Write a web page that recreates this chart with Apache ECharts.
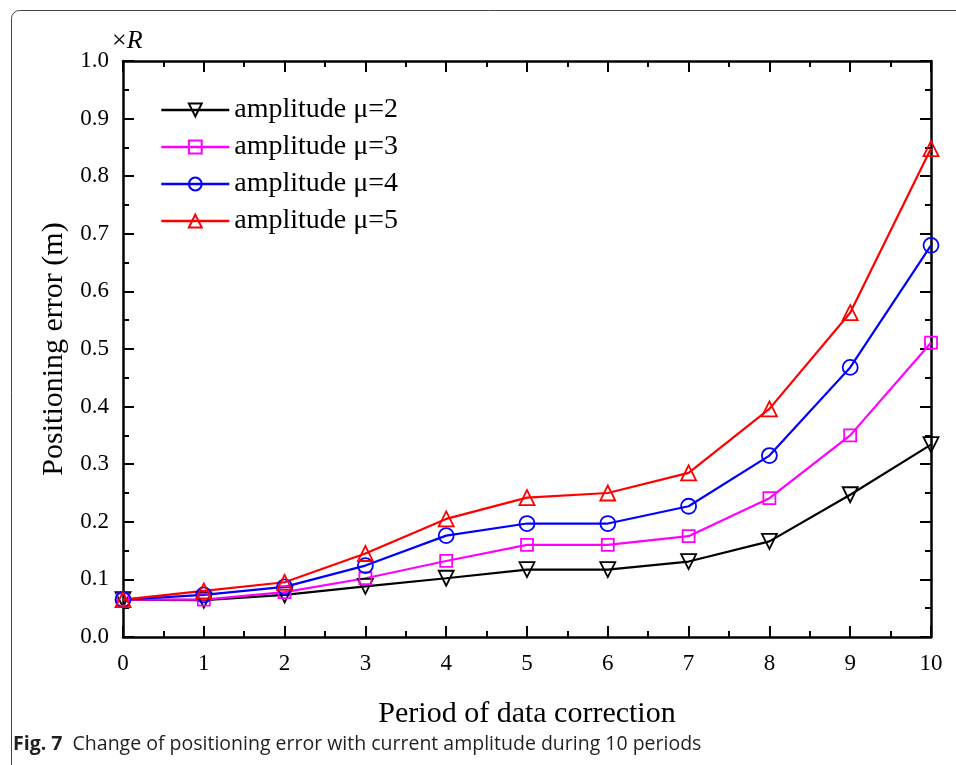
<!DOCTYPE html>
<html>
<head>
<meta charset="utf-8">
<script src="https://cdn.jsdelivr.net/npm/echarts@6/dist/echarts.min.js"></script>
<style>
  html, body { margin: 0; padding: 0; background: #fff; }
  #main { width: 956px; height: 765px; }
</style>
</head>
<body>
<div id="main"></div>
<script>
const periods = [0, 1, 2, 3, 4, 5, 6, 7, 8, 9, 10];
const mu2 = [0.065, 0.064, 0.073, 0.088, 0.102, 0.117, 0.117, 0.131, 0.166, 0.247, 0.334];
const mu3 = [0.065, 0.065, 0.078, 0.102, 0.132, 0.160, 0.160, 0.175, 0.241, 0.350, 0.511];
const mu4 = [0.065, 0.073, 0.087, 0.124, 0.176, 0.197, 0.197, 0.227, 0.315, 0.468, 0.680];
const mu5 = [0.065, 0.080, 0.095, 0.145, 0.205, 0.242, 0.250, 0.285, 0.396, 0.563, 0.848];
const seriesNames = ['amplitude μ=2', 'amplitude μ=3', 'amplitude μ=4', 'amplitude μ=5'];

const serif = 'Liberation Serif';
const chart = echarts.init(document.getElementById('main'));

function mkSeries(name, vals, color, symbol, size, rotate) {
  return {
    name: name,
    type: 'line',
    data: periods.map((p, i) => [p, vals[i]]),
    symbol: symbol,
    symbolSize: size,
    symbolRotate: rotate || 0,
    showAllSymbol: true,
    lineStyle: { color: color, width: 2.2 },
    itemStyle: { color: 'rgba(255,255,255,0)', borderColor: color, borderWidth: 1.8 },
    emphasis: { disabled: true },
    z: 3
  };
}

// shared axis look: inward ticks, minor ticks, no grid lines
function axisStyle() {
  return {
    axisLine: { show: true, onZero: false, lineStyle: { color: '#000', width: 2.5 } },
    axisTick: { show: true, inside: true, length: 11, lineStyle: { color: '#000', width: 2 } },
    minorTick: { show: true, splitNumber: 2, length: 6, lineStyle: { color: '#000', width: 2 } },
    splitLine: { show: false }
  };
}

const option = {
  animation: false,
  backgroundColor: '#fff',
  grid: { left: 123, top: 61, right: 25, bottom: 128, containLabel: false },
  legend: {
    orient: 'vertical',
    left: 155,
    top: 91,
    itemGap: 9,
    itemWidth: 68,
    itemHeight: 16,
    data: seriesNames,
    lineStyle: { width: 2.6 },
    textStyle: { fontFamily: serif, fontSize: 28, color: '#000' }
  },
  xAxis: [
    Object.assign(axisStyle(), {
      type: 'value', min: 0, max: 10, interval: 1,
      name: 'Period of data correction', nameLocation: 'middle', nameGap: 62,
      nameTextStyle: { fontFamily: serif, fontSize: 30, color: '#000' },
      axisLabel: { fontFamily: serif, fontSize: 23, color: '#000', margin: 15 }
    }),
    Object.assign(axisStyle(), {
      type: 'value', min: 0, max: 10, interval: 1, position: 'top',
      axisLabel: { show: false }
    })
  ],
  yAxis: [
    Object.assign(axisStyle(), {
      type: 'value', min: 0, max: 1.0, interval: 0.1,
      name: 'Positioning error (m)', nameLocation: 'middle', nameGap: 48,
      nameTextStyle: { fontFamily: serif, fontSize: 30, color: '#000' },
      axisLabel: { fontFamily: serif, fontSize: 23, color: '#000', margin: 14,
        formatter: v => v.toFixed(1) }
    }),
    Object.assign(axisStyle(), {
      type: 'value', min: 0, max: 1.0, interval: 0.1, position: 'right',
      axisLabel: { show: false }
    })
  ],
  series: [
    mkSeries(seriesNames[0], mu2, '#000000', 'triangle', 15, 180),
    mkSeries(seriesNames[1], mu3, '#ff00ff', 'rect', 12),
    mkSeries(seriesNames[2], mu4, '#0000ff', 'circle', 15),
    mkSeries(seriesNames[3], mu5, '#ff0000', 'triangle', 15)
  ],
  graphic: [
    {
      type: 'rect', silent: true,
      shape: { x: 11.5, y: 10.5, width: 1000, height: 800, r: 8 },
      style: { fill: 'none', stroke: '#444', lineWidth: 1 }
    },
    {
      type: 'text', left: 112, top: 28,
      style: {
        text: '×{i|R}',
        rich: { i: { fontStyle: 'italic', fontFamily: serif, fontSize: 26, fill: '#000' } },
        fontFamily: serif, fontSize: 26, fill: '#000'
      }
    },
    {
      type: 'text', left: 13, top: 734,
      style: {
        text: '{b|Fig. 7}  Change of positioning error with current amplitude during 10 periods',
        rich: { b: { fontWeight: 'bold', fontFamily: 'Open Sans', fontSize: 19.5, fill: '#231f20' } },
        fontFamily: 'Open Sans', fontSize: 19.5, fill: '#231f20'
      }
    }
  ]
};

chart.setOption(option);
</script>
</body>
</html>
